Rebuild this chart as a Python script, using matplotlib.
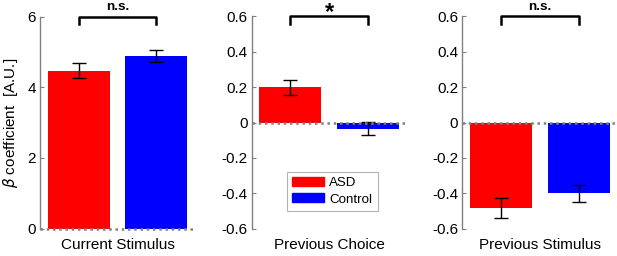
import matplotlib
matplotlib.use("Agg")
import matplotlib.pyplot as plt
from matplotlib.ticker import FuncFormatter

plt.rcParams['font.family'] = ['Liberation Sans', 'DejaVu Sans']

groups = ["ASD", "Control"]
colors = ["#FF0000", "#0000FF"]
panel_titles = ["Current Stimulus", "Previous Choice", "Previous Stimulus"]
means = [[4.46, 4.88], [0.20, -0.035], [-0.483, -0.401]]
sems = [[0.21, 0.17], [0.043, 0.038], [0.057, 0.048]]
sig_labels = ["n.s.", "*", "n.s."]
ylims = [(0, 6), (-0.6, 0.6), (-0.6, 0.6)]
yticks = [[0, 2, 4, 6], [-0.6, -0.4, -0.2, 0, 0.2, 0.4, 0.6], [-0.6, -0.4, -0.2, 0, 0.2, 0.4, 0.6]]

W, H = 617, 256
fig = plt.figure(figsize=(W / 100, H / 100), dpi=100)
lefts = [40, 251.7, 462.3]
aw = 155
top_px, bot_px = 16.5, 228.5

def fmt(v, pos):
    if abs(v) < 1e-9:
        return "0"
    return "%g" % v

gray = "#808080"
for i in range(3):
    ax = fig.add_axes([lefts[i] / W, 1 - bot_px / H, aw / W, (bot_px - top_px) / H])
    x = [1, 2]
    ax.bar(x, means[i], width=0.8, color=colors, edgecolor='none', zorder=2)
    ax.errorbar(x, means[i], yerr=sems[i], fmt='none', ecolor='black', elinewidth=1.0,
                capsize=5, capthick=1.0, zorder=3)
    ax.set_xlim(0.5, 2.5)
    ax.set_ylim(*ylims[i])
    ax.set_yticks(yticks[i])
    ax.yaxis.set_major_formatter(FuncFormatter(fmt))
    ax.set_xticks([])
    for s in ['top', 'right', 'bottom']:
        ax.spines[s].set_visible(False)
    ax.spines['left'].set_color(gray)
    ax.spines['left'].set_linewidth(1.0)
    ax.tick_params(axis='y', direction='in', length=3, color=gray, labelsize=11, pad=3)
    ax.axhline(0, color=gray, linestyle=(0, (1, 1.5)), linewidth=1.8, zorder=4, clip_on=False)
    ax.set_xlabel(panel_titles[i], fontsize=11, labelpad=7)
    # significance bracket
    lo, hi = ylims[i]
    leg = 0.035 * (hi - lo)
    ax.plot([1, 1, 2, 2], [hi - leg, hi, hi, hi - leg], color='black', linewidth=1.8,
            clip_on=False, zorder=5)
    if sig_labels[i] == "*":
        ax.annotate("*", xy=(1.5, hi), xytext=(0, -1.5), textcoords='offset points',
                    ha='center', va='baseline', fontsize=17, fontweight='bold',
                    annotation_clip=False)
    else:
        ax.annotate(sig_labels[i], xy=(1.5, hi), xytext=(0, 4.5), textcoords='offset points',
                    ha='center', va='baseline', fontsize=9.7, fontweight='bold',
                    annotation_clip=False)
    if i == 0:
        ax.set_ylabel(r"$\beta$ coefficient  [A.U.]", fontsize=11, labelpad=5)
    if i == 1:
        handles = [plt.Rectangle((0, 0), 1, 1, color=c) for c in colors]
        lg = ax.legend(handles, groups, loc='lower center', bbox_to_anchor=(0.52, 0.083),
                       fontsize=9.6, frameon=True, fancybox=False, edgecolor='#a0a0a0',
                       handlelength=2.4, handleheight=0.65, handletextpad=0.4,
                       borderpad=0.4, labelspacing=0.3, borderaxespad=0)
        lg.get_frame().set_linewidth(0.8)

fig.savefig("out.png", dpi=100)
